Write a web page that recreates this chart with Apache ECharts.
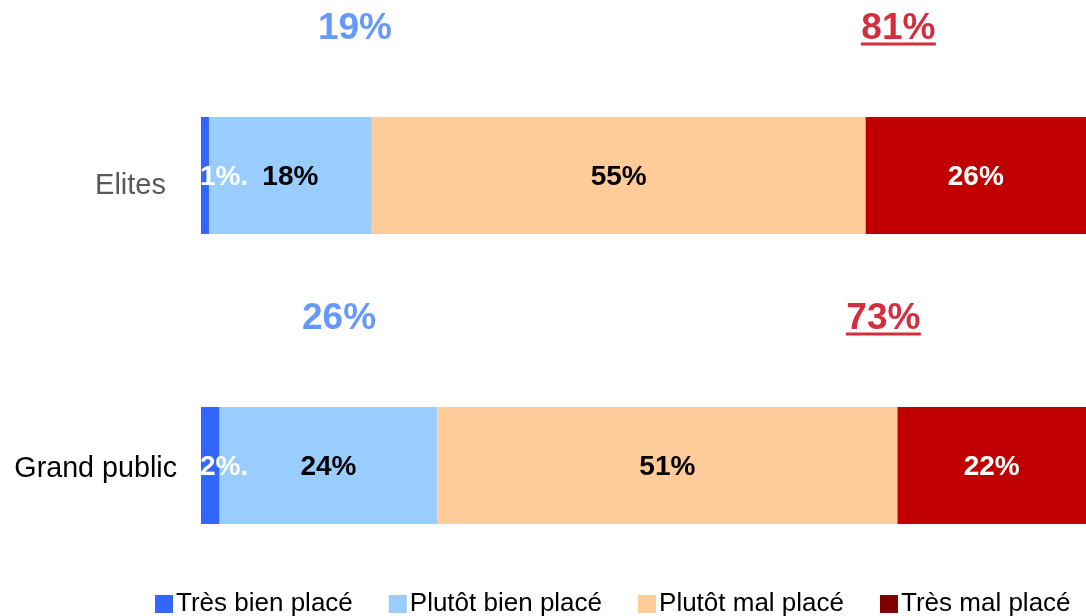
<!DOCTYPE html>
<html>
<head>
<meta charset="utf-8">
<script src="https://cdn.jsdelivr.net/npm/echarts@6/dist/echarts.min.js"></script>
<style>
  html, body { margin: 0; padding: 0; background: #fff; }
  #chart { width: 1086px; height: 616px; }
</style>
</head>
<body>
<div id="chart"></div>
<script>
// catégories (de haut en bas)
const categories = ['Elites', 'Grand public']
const seriesNames = ['Très bien placé', 'Plutôt bien placé', 'Plutôt mal placé', 'Très mal placé']

// largeurs des segments (en %)
const tresBien = [0.9, 2.1]
const plutotBien = [18.4, 24.6]
const plutotMal = [55.8, 52.0]
const tresMal = [24.9, 21.3]

// libellés affichés dans les barres
const tresBienLabels = ['1%.', '2%.']
const plutotBienLabels = ['18%', '24%']
const plutotMalLabels = ['55%', '51%']
const tresMalLabels = ['26%', '22%']

// totaux au-dessus des barres
const bienTotals = ['19%', '26%']
const malTotals = ['81%', '73%']
const bienTotalAt = [17.4, 15.6]
const malTotalAt = [78.8, 77.1]

const barColors = ['#3366ff', '#99ccff', '#ffcc99', '#c00000']
const legendColors = ['#3366ff', '#99ccff', '#ffcc99', '#800000']
const labelColors = ['#ffffff', '#000000', '#000000', '#ffffff']
const font = '"Liberation Sans", Arial, sans-serif'

const values = [tresBien, plutotBien, plutotMal, tresMal]
const labels = [tresBienLabels, plutotBienLabels, plutotMalLabels, tresMalLabels]

const chart = echarts.init(document.getElementById('chart'))

const barSeries = seriesNames.map((name, i) => ({
  name: name,
  type: 'bar',
  stack: 'total',
  barWidth: 117,
  itemStyle: { color: barColors[i] },
  label: {
    show: true,
    position: i === 0 ? 'insideLeft' : 'inside',
    distance: 0,
    offset: [i === 0 ? -1 : 0, 2],
    fontFamily: font,
    fontSize: 28,
    fontWeight: 'bold',
    color: labelColors[i],
    formatter: p => labels[i][p.dataIndex]
  },
  emphasis: { disabled: true },
  data: values[i]
}))

const option = {
  animation: false,
  textStyle: { fontFamily: font },
  grid: { left: 201, right: 0, top: 30.5, bottom: 5.5 },
  xAxis: { type: 'value', min: 0, max: 100, show: false },
  yAxis: {
    type: 'category',
    inverse: true,
    data: categories,
    axisLine: { show: false },
    axisTick: { show: false },
    axisLabel: {
      margin: 24,
      formatter: v => v === 'Elites' ? '{e|' + v + '}' : '{g|' + v + '}',
      rich: {
        e: { fontFamily: font, fontSize: 29, color: '#595959', padding: [20, 11, 0, 0] },
        g: { fontFamily: font, fontSize: 28.7, color: '#000000', padding: [8, 0, 0, 0] }
      }
    }
  },
  legend: {
    left: 155,
    bottom: -1,
    padding: 0,
    itemGap: 36,
    itemWidth: 18,
    itemHeight: 18,
    icon: 'rect',
    textStyle: { fontFamily: font, fontSize: 26, color: '#000', padding: [0, 0, 0, -2] },
    data: seriesNames.map((n, i) => ({ name: n, itemStyle: { color: legendColors[i] } }))
  },
  series: barSeries.concat([
    {
      name: 'bien',
      type: 'scatter',
      symbolSize: 0,
      silent: true,
      itemStyle: { opacity: 1 },
      label: {
        show: true,
        position: 'inside',
        offset: [0, -147],
        fontFamily: font,
        fontSize: 37,
        fontWeight: 'bold',
        color: '#6699ff',
        formatter: p => bienTotals[p.dataIndex]
      },
      data: categories.map((c, i) => [bienTotalAt[i], c])
    },
    {
      name: 'mal',
      type: 'scatter',
      symbolSize: 0,
      silent: true,
      itemStyle: { opacity: 1 },
      label: {
        show: true,
        position: 'inside',
        offset: [0, -145],
        formatter: p => '{t|' + malTotals[p.dataIndex] + '}\n{u|}',
        rich: {
          t: { fontFamily: font, fontSize: 37, fontWeight: 'bold', color: '#d42e3e', lineHeight: 27 },
          u: { width: 75, height: 3, lineHeight: 3, backgroundColor: '#d42e3e' }
        }
      },
      data: categories.map((c, i) => [malTotalAt[i], c])
    }
  ])
}

chart.setOption(option)
</script>
</body>
</html>
